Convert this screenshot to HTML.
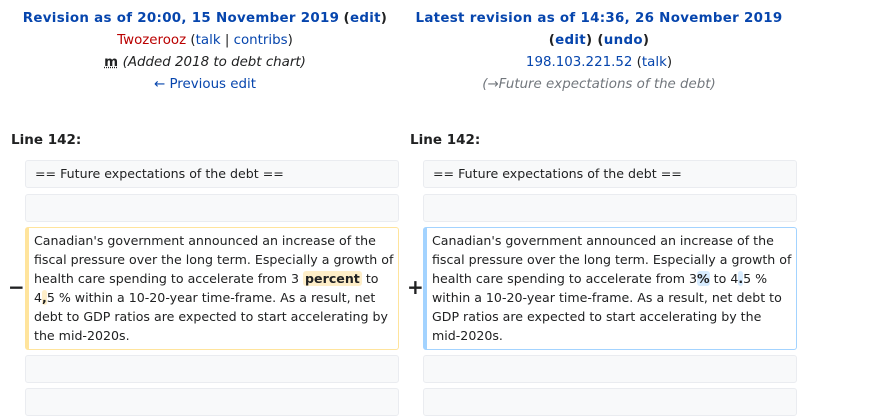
<!DOCTYPE html>
<html><head><meta charset="utf-8"><style>
body{margin:0;width:874px;height:420px;background:#fff;font-family:"DejaVu Sans","Liberation Sans",sans-serif;color:#202122;position:relative;overflow:hidden}
.a{position:absolute}
.hd{text-align:center;font-size:13.4px;line-height:22px}
.hd .b{letter-spacing:0.3px}
.b{font-weight:bold}
a,.lk{color:#0645ad;text-decoration:none}
.red{color:#ba0000}
.box{position:absolute;background:#f8f9fa;border:1px solid #eaecf0;border-radius:3px;box-sizing:border-box}
.txt{font-size:12.6px;line-height:19px;padding:3px 8px 0 9px;white-space:nowrap}
.del{border-color:#ffe49c;border-left:4px solid #ffe49c;background:#fff}
.ins{border-color:#a3d3ff;border-left:4px solid #a3d3ff;background:#fff}
.dh{background:#feeec8;font-weight:bold;border-radius:3px;padding:0 2px}
.ih{background:#d8ecff;font-weight:bold;border-radius:3px}
.ln{font-size:13.5px;font-weight:bold}
</style></head><body>
<div class="a hd" style="left:0;width:410px;top:8px">
<div><a class="b" href="#">Revision as of 20:00, 15 November 2019</a> <span class="b">(<a href="#">edit</a>)</span></div>
<div><a class="red" href="#">Twozerooz</a> (<a href="#">talk</a> | <a href="#">contribs</a>)</div>
<div><span class="b" style="text-decoration:underline dotted">m</span> <i>(Added 2018 to debt chart)</i></div>
<div><a href="#">← Previous edit</a></div>
</div>
<div class="a hd" style="left:397px;width:404px;top:8px">
<div><a class="b" href="#">Latest revision as of 14:36, 26 November 2019</a></div>
<div class="b">(<a href="#">edit</a>) (<a href="#">undo</a>)</div>
<div><a href="#">198.103.221.52</a> (<a href="#">talk</a>)</div>
<div style="color:#72777d"><i>(<a href="#" style="color:#72777d">→</a>Future expectations of the debt)</i></div>
</div>
<div class="a ln" style="left:11px;top:132px">Line 142:</div>
<div class="a ln" style="left:410px;top:132px">Line 142:</div>

<div class="box txt" style="left:25px;top:160px;width:374px;height:28px">== Future expectations of the debt ==</div>
<div class="box txt" style="left:423px;top:160px;width:374px;height:28px">== Future expectations of the debt ==</div>
<div class="box" style="left:25px;top:194px;width:374px;height:28px"></div>
<div class="box" style="left:423px;top:194px;width:374px;height:28px"></div>

<div class="a" style="left:8px;top:275px;font-size:20px;font-weight:bold">−</div>
<div class="box txt del" style="left:25px;top:227px;width:374px;height:123px;padding-left:5px">Canadian's government announced an increase of the<br>fiscal pressure over the long term. Especially a growth of<br>health care spending to accelerate from 3 <span class="dh">percent</span> to<br>4<span class="dh" style="padding:0">,</span>5 % within a 10-20-year time-frame. As a result, net<br>debt to GDP ratios are expected to start accelerating by<br>the mid-2020s.</div>
<div class="a" style="left:407px;top:275px;font-size:20px;font-weight:bold">+</div>
<div class="box txt ins" style="left:423px;top:227px;width:374px;height:123px;padding-left:5px">Canadian's government announced an increase of the<br>fiscal pressure over the long term. Especially a growth of<br>health care spending to accelerate from 3<span class="ih">%</span> to 4<span class="ih">.</span>5 %<br>within a 10-20-year time-frame. As a result, net debt to<br>GDP ratios are expected to start accelerating by the<br>mid-2020s.</div>

<div class="box" style="left:25px;top:355px;width:374px;height:28px"></div>
<div class="box" style="left:423px;top:355px;width:374px;height:28px"></div>
<div class="box" style="left:25px;top:388px;width:374px;height:28px"></div>
<div class="box" style="left:423px;top:388px;width:374px;height:28px"></div>
</body></html>
